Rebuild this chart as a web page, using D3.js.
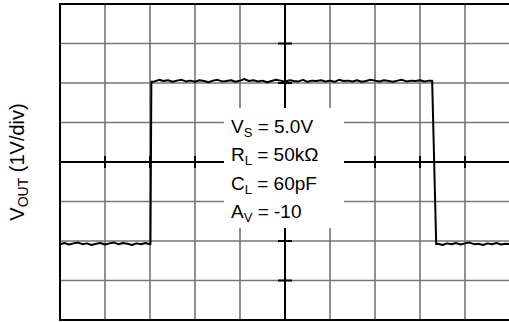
<!DOCTYPE html>
<html>
<head>
<meta charset="utf-8">
<script src="https://cdn.jsdelivr.net/npm/d3@7"></script>
<style>
  body { margin: 0; background: #fff; }
  svg { display: block; font-family: "Liberation Sans", Arial, sans-serif; }
</style>
</head>
<body>
<svg id="chart" width="509" height="322"></svg>
<script>
// scope grid: 10 time divisions, 8 voltage divisions (1V/div)
const timeDivs = [0, 1, 2, 3, 4, 5, 6, 7, 8, 9, 10];
const voltDivs = [-4, -3, -2, -1, 0, 1, 2, 3, 4];

// trace (time in divisions, volts)
const traceT = [
  0.0, 0.1, 0.2, 0.3, 0.4, 0.5, 0.6, 0.7, 0.8, 0.9, 1.0, 1.1, 1.2, 1.3, 1.4, 1.5, 1.6, 1.7, 1.8, 1.9, 2.0,
  2.01, 2.03,
  2.1, 2.2, 2.3, 2.4, 2.5, 2.6, 2.7, 2.8, 2.9, 3.0, 3.1, 3.2, 3.3, 3.4, 3.5, 3.6, 3.7, 3.8, 3.9, 4.0,
  4.1, 4.2, 4.3, 4.4, 4.5, 4.6, 4.7, 4.8, 4.9, 5.0, 5.1, 5.2, 5.3, 5.4, 5.5, 5.6, 5.7, 5.8, 5.9, 6.0,
  6.1, 6.2, 6.3, 6.4, 6.5, 6.6, 6.7, 6.8, 6.9, 7.0, 7.1, 7.2, 7.3, 7.4, 7.5, 7.6, 7.7, 7.8, 7.9, 8.0,
  8.1, 8.2,
  8.27, 8.36,
  8.4, 8.5, 8.6, 8.7, 8.8, 8.9, 9.0, 9.1, 9.2, 9.3, 9.4, 9.5, 9.6, 9.7, 9.8, 9.9, 10.0
];
const traceV = [
  -2.08, -2.05, -2.09, -2.06, -2.04, -2.08, -2.06, -2.10, -2.07, -2.05, -2.09, -2.06, -2.04, -2.08, -2.05, -2.07, -2.10, -2.06, -2.08, -2.05, -2.08,
  -2.08, 2.03,
  2.04, 2.08, 2.05, 2.07, 2.03, 2.06, 2.08, 2.04, 2.06, 2.03, 2.07, 2.05, 2.02, 2.06, 2.08, 2.04, 2.05, 2.07, 2.03, 2.06,
  2.10, 2.05, 2.07, 2.04, 2.06, 2.02, 2.05, 2.08, 2.06, 2.03, 2.07, 2.05, 2.04, 2.08, 2.03, 2.06, 2.05, 2.07, 2.04, 2.06,
  2.03, 2.08, 2.05, 2.06, 2.04, 2.07, 2.03, 2.05, 2.08, 2.06, 2.04, 2.07, 2.05, 2.03, 2.06, 2.08, 2.04, 2.06, 2.05, 2.07,
  2.04, 2.06,
  2.06, -2.08,
  -2.07, -2.10, -2.06, -2.08, -2.05, -2.09, -2.06, -2.04, -2.08, -2.07, -2.10, -2.06, -2.08, -2.05, -2.09, -2.07, -2.08
];

// annotation lines: symbol, subscript, rest
const noteMain = ["V", "R", "C", "A"];
const noteSub = ["S", "L", "L", "V"];
const noteRest = [" = 5.0V", " = 50k\u03A9", " = 60pF", " = -10"];

const svg = d3.select('#chart');

const x = d3.scaleLinear().domain([0, 10]).range([60, 510]);
const y = d3.scaleLinear().domain([-4, 4]).range([320, 4]);

// grid lines
svg.append('g').selectAll('line').data(timeDivs).join('line')
  .attr('x1', d => x(d)).attr('x2', d => x(d))
  .attr('y1', y(4)).attr('y2', y(-4))
  .attr('stroke', '#555').attr('stroke-width', 1.3);

svg.append('g').selectAll('line').data(voltDivs).join('line')
  .attr('x1', x(0)).attr('x2', x(10))
  .attr('y1', d => y(d)).attr('y2', d => y(d))
  .attr('stroke', '#777').attr('stroke-width', 1.3);

// centre axes with ticks at each division
const centre = svg.append('g').attr('stroke', '#000');
centre.append('line')
  .attr('x1', x(5)).attr('x2', x(5)).attr('y1', y(4)).attr('y2', y(-4))
  .attr('stroke-width', 2);
centre.append('line')
  .attr('x1', x(0)).attr('x2', x(10)).attr('y1', y(0)).attr('y2', y(0))
  .attr('stroke-width', 2);
centre.selectAll('.vt').data(voltDivs).join('line')
  .attr('class', 'vt')
  .attr('x1', x(5) - 7).attr('x2', x(5) + 7)
  .attr('y1', d => y(d)).attr('y2', d => y(d))
  .attr('stroke-width', 2);
centre.selectAll('.ht').data(timeDivs).join('line')
  .attr('class', 'ht')
  .attr('x1', d => x(d)).attr('x2', d => x(d))
  .attr('y1', y(0) - 6).attr('y2', y(0) + 6)
  .attr('stroke-width', 2);

// white box behind the conditions
svg.append('rect')
  .attr('x', 224).attr('y', 108).attr('width', 120).attr('height', 120)
  .attr('fill', '#fff');

const notes = svg.append('g').attr('font-size', 19).attr('fill', '#000');
noteMain.forEach((m, i) => {
  const t = notes.append('text').attr('x', 231).attr('y', 132.5 + i * 28.6);
  t.append('tspan').text(m);
  t.append('tspan').attr('font-size', 13).attr('dy', 4).text(noteSub[i]);
  t.append('tspan').attr('dy', -4).text(noteRest[i]);
});

// trace
const points = traceT.map((t, i) => [t, traceV[i]]);
svg.append('path')
  .datum(points)
  .attr('fill', 'none')
  .attr('stroke', '#000')
  .attr('stroke-width', 2)
  .attr('stroke-linejoin', 'round')
  .attr('d', d3.line().x(d => x(d[0])).y(d => y(d[1])));

// frame
svg.append('rect')
  .attr('x', x(0)).attr('y', y(4))
  .attr('width', x(10) - x(0)).attr('height', y(-4) - y(4))
  .attr('fill', 'none').attr('stroke', '#000').attr('stroke-width', 2);

// y axis label
const ylab = svg.append('text')
  .attr('transform', `translate(24,${y(0)}) rotate(-90)`)
  .attr('text-anchor', 'middle')
  .attr('font-size', 20);
ylab.append('tspan').text('V');
ylab.append('tspan').attr('font-size', 14).attr('dy', 4).text('OUT');
ylab.append('tspan').attr('dy', -4).text(' (1V/div)');
</script>
</body>
</html>
